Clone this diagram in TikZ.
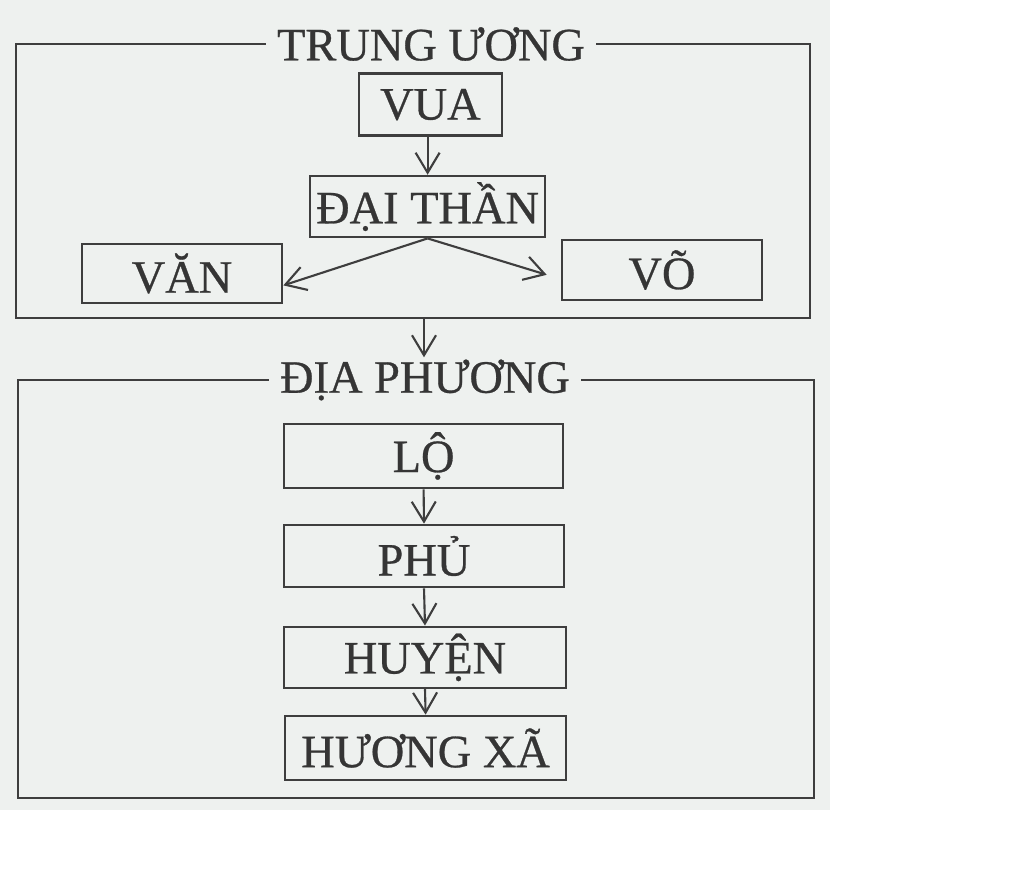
\documentclass[tikz,border=0pt]{standalone}
\usepackage{fontspec}
\setmainfont{Liberation Serif}
\newfontfamily\scanfont{Liberation Serif}[FakeBold=0.6]
\usepackage{xcolor}
\usepackage{tikz}
\usetikzlibrary{arrows.meta}

\definecolor{scan}{RGB}{238,241,239}
\definecolor{ink}{RGB}{62,62,62}

\begin{document}
\begin{tikzpicture}[every node/.style={font=\scanfont\fontsize{33}{36}\selectfont,text=ink!85!black}]

\tikzset{box/.style={draw=ink,line width=1.9pt,inner sep=0pt},
  frame/.style={draw=ink,line width=1.9pt},
  arr/.style={->,>={Straight Barb[length=5mm,width=6mm]},line width=1.5pt,draw=ink}}

\useasboundingbox (0,0) rectangle (25.6,21.825);
\fill[scan] (0,1.575) rectangle (20.75,21.825);

  % trung uong
\draw[frame] (0.4,13.875) rectangle (20.25,20.725);
\draw (10.775,20.725) node[fill=scan,inner xsep=0.28cm,inner ysep=0.05cm] (trung) {TRUNG ƯƠNG};

\draw (10.76,19.21) node[box,minimum width=3.575cm,minimum height=1.55cm] (vua) {VUA};
\draw (10.69,16.66) node[box,minimum width=5.875cm,minimum height=1.525cm] (dai) {ĐẠI THẦN};
\draw (4.55,14.99) node[box,minimum width=5cm,minimum height=1.475cm] (van) {VĂN};
\draw (16.55,15.075) node[box,minimum width=5cm,minimum height=1.5cm] (vo) {VÕ};

\draw[arr] (vua.south -| dai.north) -- (dai.north);
\draw[arr] (dai.south) -- ([yshift=-0.3cm]van.east);
\draw[arr] (dai.south) -- ([xshift=-0.35cm,yshift=-0.12cm]vo.west);

% dia phuong
\draw[frame] (0.45,1.875) rectangle (20.35,12.325);
\draw (10.625,12.325) node[fill=scan,inner xsep=0.28cm,inner ysep=0.05cm] (dia) {ĐỊA PHƯƠNG};
\coordinate (tu) at (10.6,13.875);
\draw[arr] (tu) -- (tu |- dia.north);

\draw (10.59,10.425) node[box,minimum width=6.975cm,minimum height=1.6cm] (lo) {LỘ};
\draw (10.6,7.925) node[box,minimum width=7cm,minimum height=1.55cm] (phu) {PHỦ};
\draw (10.625,5.39) node[box,minimum width=7.05cm,minimum height=1.525cm] (huyen) {HUYỆN};
\draw (10.64,3.125) node[box,minimum width=7.025cm,minimum height=1.6cm] (xa) {HƯƠNG XÃ};

\foreach \a/\b in {lo/phu,phu/huyen,huyen/xa}
  \draw[arr] (\a.south) -- (\b.north);
\end{tikzpicture}
\end{document}
